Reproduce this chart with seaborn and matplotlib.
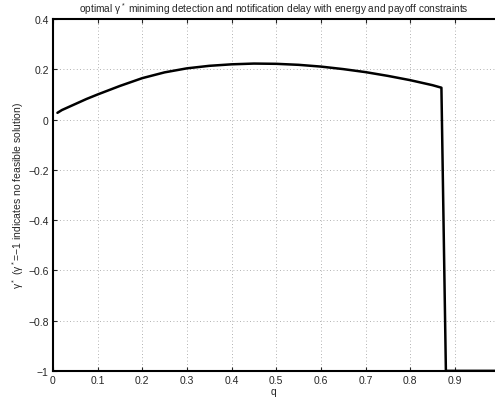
"""Optimal gamma* versus q, with infeasible region marked as -1."""
import matplotlib
matplotlib.use('Agg')
import matplotlib.pyplot as plt
import seaborn as sns
import pandas as pd

# values
q = [0.01, 0.02, 0.03, 0.05, 0.075, 0.10, 0.15, 0.20, 0.25, 0.30, 0.35,
     0.40, 0.45, 0.50, 0.55, 0.60, 0.65, 0.70, 0.75, 0.80, 0.85, 0.87,
     0.88, 0.99]
gamma = [0.027, 0.038, 0.046, 0.062, 0.082, 0.100, 0.134, 0.165, 0.188,
         0.204, 0.214, 0.220, 0.223, 0.222, 0.218, 0.211, 0.201, 0.189,
         0.174, 0.157, 0.137, 0.127, -1.0, -1.0]

x_ticks = [0, 0.1, 0.2, 0.3, 0.4, 0.5, 0.6, 0.7, 0.8, 0.9]
x_labels = ['0', '0.1', '0.2', '0.3', '0.4', '0.5', '0.6', '0.7', '0.8', '0.9']
y_ticks = [-1, -0.8, -0.6, -0.4, -0.2, 0, 0.2, 0.4]
y_labels = ['\u22121', '\u22120.8', '\u22120.6', '\u22120.4', '\u22120.2',
            '0', '0.2', '0.4']

sns.set_style('ticks')
plt.rcParams['font.family'] = ['Liberation Sans', 'DejaVu Sans']
plt.rcParams['mathtext.fontset'] = 'custom'
plt.rcParams['mathtext.rm'] = 'Liberation Sans'
plt.rcParams['mathtext.it'] = 'Liberation Sans'

data = pd.DataFrame({'q': q, 'gamma': gamma})

fig = plt.figure(figsize=(4.95, 4.02), dpi=100)
ax = fig.add_axes([0.107, 0.075, 0.893, 0.875])

sns.lineplot(data=data, x='q', y='gamma', ax=ax, color='black',
             linewidth=1.8, sort=False)

ax.set_xlim(0, 0.99)
ax.set_ylim(-1, 0.4)
ax.set_xticks(x_ticks, x_labels)
ax.set_yticks(y_ticks, y_labels)
ax.tick_params(direction='in', labelsize=7.5, top=True, length=3,
               width=0.8, pad=3)
ax.grid(True, linestyle=(0, (1, 3)), color='#999999', linewidth=0.6)

for side in ['left', 'bottom', 'top']:
    ax.spines[side].set_linewidth(1.5)
    ax.spines[side].set_color('black')
ax.spines['right'].set_visible(False)

ax.set_xlabel('q', fontsize=7.5, labelpad=1)
ax.set_ylabel('$\\gamma^*$ ($\\gamma^*$=\u22121 indicates no feasible solution)',
              fontsize=7.5, labelpad=2)
ax.set_title('optimal $\\gamma^*$ miniming detection and notification delay '
             'with energy and payoff constraints', fontsize=7.3, pad=5)

fig.savefig('out.png', dpi=100)
